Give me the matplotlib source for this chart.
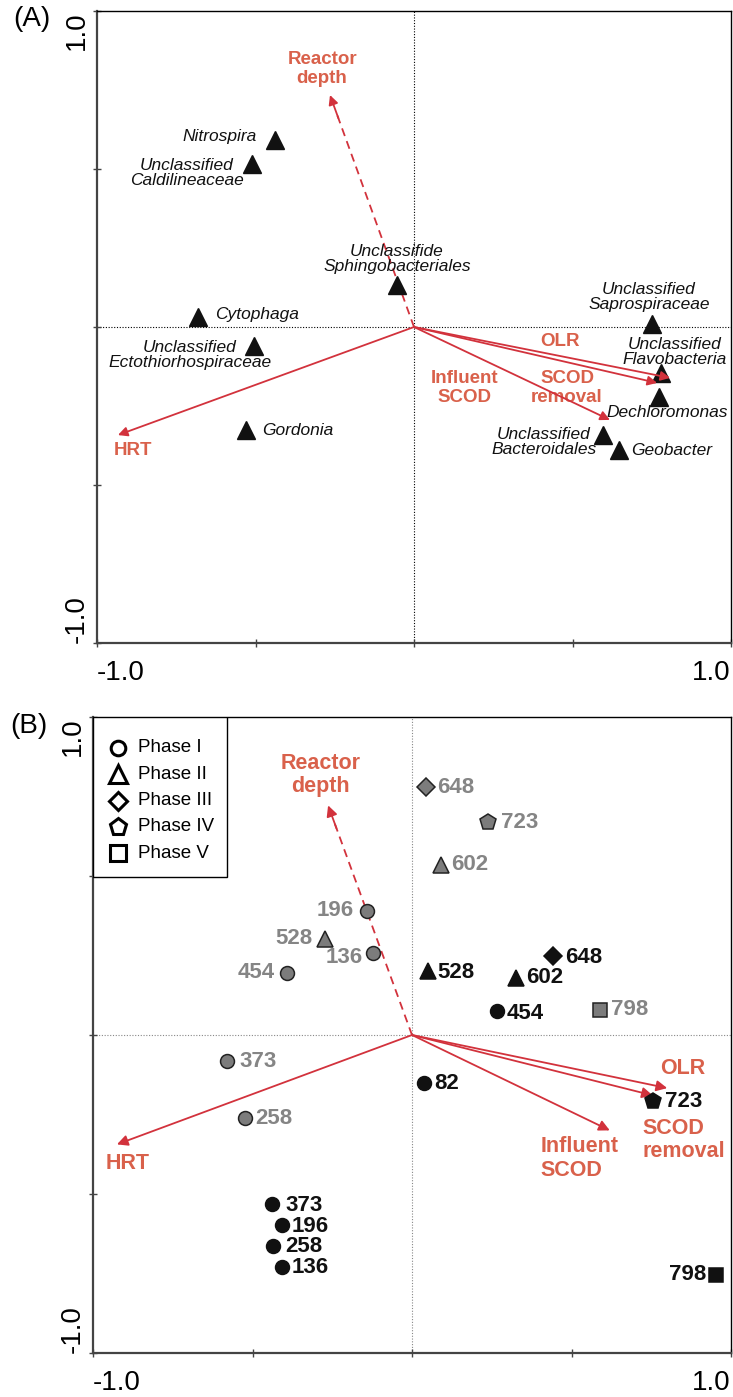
import matplotlib.pyplot as plt
from matplotlib.patches import Rectangle

plt.rcParams['font.family'] = ['Liberation Sans', 'DejaVu Sans']

ARROW_RED = '#d2323c'
LABEL_RED = '#d9614b'
GRAY_TXT = '#858585'
GRAY_FILL = '#7c7c7c'

# ---- panel A: genera scores ----
genera = ['Nitrospira', 'Unclassified\nCaldilineaceae', 'Unclassifide\nSphingobacteriales',
          'Cytophaga', 'Unclassified\nEctothiorhospiraceae', 'Gordonia',
          'Unclassified\nSaprospiraceae', 'Unclassified\nFlavobacteria', 'Dechloromonas',
          'Unclassified\nBacteroidales', 'Geobacter']
genus_x = [-0.438, -0.511, -0.054, -0.681, -0.505, -0.530, 0.751, 0.779, 0.773, 0.596, 0.647]
genus_y = [0.592, 0.516, 0.133, 0.032, -0.060, -0.326, 0.010, -0.146, -0.221, -0.342, -0.389]

# environmental variables (same in both panels, read separately)
env_names = ['Reactor\ndepth', 'HRT', 'OLR', 'SCOD\nremoval', 'Influent\nSCOD']
env_a_x = [-0.265, -0.934, 0.808, 0.767, 0.618]
env_a_y = [0.734, -0.342, -0.161, -0.177, -0.294]
env_b_x = [-0.263, -0.925, 0.800, 0.755, 0.620]
env_b_y = [0.722, -0.344, -0.167, -0.190, -0.300]

# ---- panel B: sample scores ----
phases = ['Phase I', 'Phase II', 'Phase III', 'Phase IV', 'Phase V']
gray_days = ['196', '528', '136', '454', '648', '723', '602', '798', '373', '258']
gray_phase = [0, 1, 0, 0, 2, 3, 1, 4, 0, 0]
gray_x = [-0.141, -0.273, -0.122, -0.392, 0.044, 0.238, 0.091, 0.589, -0.580, -0.524]
gray_y = [0.391, 0.303, 0.259, 0.196, 0.779, 0.669, 0.536, 0.079, -0.082, -0.262]

black_days = ['528', '648', '602', '454', '82', '723', '373', '196', '258', '136', '798']
black_phase = [1, 2, 1, 0, 0, 3, 0, 0, 0, 0, 4]
black_x = [0.050, 0.442, 0.326, 0.266, 0.038, 0.755, -0.439, -0.408, -0.436, -0.408, 0.953]
black_y = [0.202, 0.249, 0.180, 0.076, -0.151, -0.208, -0.533, -0.599, -0.662, -0.729, -0.754]

# label placement (pixel offsets, alignment)
genus_lab = [(-18, 3, 'right'), (-65, -9, 'center'), (0, 26, 'center'), (17, 2, 'left'),
             (-64, -9, 'center'), (16, 0, 'left'), (-3, 27, 'center'), (14, 21, 'center'),
             (8, -16, 'center'), (-59, -7, 'center'), (12, -1, 'left')]
env_a_lab = [(-0.29, 0.816, 'center'), (-0.886, -0.392, 'center'), (0.46, -0.047, 'center'),
             (0.483, -0.193, 'center'), (0.158, -0.193, 'center')]
env_b_lab = [(-0.288, 0.817, 'center'), (-0.893, -0.404, 'center'), (0.85, -0.104, 'center'),
             (0.722, -0.331, 'left'), (0.404, -0.388, 'left')]
gray_lab = [(-13, 0, 'right'), (-12, 0, 'right'), (-10, -5, 'right'), (-12, 0, 'right'),
            (11, 0, 'left'), (13, 0, 'left'), (10, 0, 'left'), (11, 0, 'left'),
            (12, 0, 'left'), (10, 0, 'left')]
black_lab = [(9, -2, 'left'), (12, -2, 'left'), (10, 0, 'left'), (10, -3, 'left'),
             (10, 0, 'left'), (12, 0, 'left'), (13, -1, 'left'), (10, -1, 'left'),
             (12, -1, 'left'), (10, -1, 'left'), (-10, 0, 'right')]

markers = ['o', '^', 'D', 'p', 's']
msizes = [10, 12, 9, 12, 10.5]

W, H = 733, 1397
fig = plt.figure(figsize=(W / 100, H / 100), dpi=100)


def make_axes(l, r, t, b, zcolor):
    ax = fig.add_axes([l / W, 1 - b / H, (r - l) / W, (b - t) / H])
    ax.set_xlim(-1, 1)
    ax.set_ylim(-1, 1)
    ax.axhline(0, color=zcolor, lw=0.8, ls=(0, (1, 1.5)), zorder=0)
    ax.axvline(0, color=zcolor, lw=0.8, ls=(0, (1, 1.5)), zorder=0)
    for s in ['left', 'bottom']:
        ax.spines[s].set_color('#444444')
        ax.spines[s].set_linewidth(1.6)
    for s in ['top', 'right']:
        ax.spines[s].set_color('black')
        ax.spines[s].set_linewidth(1.0)
    ticks = [-1, -0.5, 0, 0.5, 1]
    ax.set_xticks(ticks)
    ax.set_yticks(ticks)
    ax.set_xticklabels(['-1.0', '', '', '', '1.0'], fontsize=20)
    ax.set_yticklabels(['-1.0', '', '', '', '1.0'], fontsize=20, rotation=90)
    ax.tick_params(axis='x', direction='inout', length=6, width=1, pad=9, color='#444444')
    ax.tick_params(axis='y', direction='inout', length=6, width=1, pad=2, color='#444444')
    xl = ax.get_xticklabels()
    xl[0].set_ha('left')
    xl[-1].set_ha('right')
    yl = ax.get_yticklabels()
    yl[0].set_va('bottom')
    yl[-1].set_va('top')
    return ax


def draw_env(ax, xs, ys, labs, fs, hs, lsp):
    for i, (x, y) in enumerate(zip(xs, ys)):
        if i == 0:
            # dashed shaft, solid head
            ax.plot([0, x * 0.93], [0, y * 0.93], color=ARROW_RED, lw=1.3, ls=(0, (4.5, 3)))
            ax.annotate('', xy=(x, y), xytext=(x * 0.9, y * 0.9),
                        arrowprops=dict(arrowstyle='-|>', color=ARROW_RED, lw=1.3,
                                        mutation_scale=hs, shrinkA=0, shrinkB=0))
        else:
            ax.annotate('', xy=(x, y), xytext=(0, 0),
                        arrowprops=dict(arrowstyle='-|>', color=ARROW_RED, lw=1.3,
                                        mutation_scale=hs, shrinkA=0, shrinkB=0))
        tx, ty, ha = labs[i]
        ax.text(tx, ty, env_names[i], color=LABEL_RED, fontsize=fs, fontweight='bold',
                ha=ha, va='center', multialignment=ha, linespacing=lsp)


# ---- (A) ----
axA = make_axes(97, 731, 11, 643, 'black')
axA.plot(genus_x, genus_y, ls='none', marker='^', ms=13, color='#111111', zorder=3)
for i, name in enumerate(genera):
    dx, dy, ha = genus_lab[i]
    axA.annotate(name, (genus_x[i], genus_y[i]), xytext=(dx, dy), textcoords='offset pixels',
                 ha=ha, va='center', fontsize=12.5, style='italic', color='#111111',
                 multialignment='center', linespacing=1.0)
draw_env(axA, env_a_x, env_a_y, env_a_lab, 13.5, 14, 1.15)
fig.text(13 / W, 1 - 6 / H, '(A)', fontsize=20, va='top', ha='left')

# ---- (B) ----
bl, br, bt, bb = 93, 731, 717, 1353
axB = make_axes(bl, br, bt, bb, '#888888')
draw_env(axB, env_b_x, env_b_y, env_b_lab, 15.5, 16, 1.15)

for xs, ys, ph, days, labs, fill, edge, tcol in [
        (gray_x, gray_y, gray_phase, gray_days, gray_lab, GRAY_FILL, '#222222', GRAY_TXT),
        (black_x, black_y, black_phase, black_days, black_lab, '#111111', '#111111', '#111111')]:
    for i in range(len(xs)):
        p = ph[i]
        axB.plot(xs[i], ys[i], marker=markers[p], ms=msizes[p], mfc=fill, mec=edge,
                 mew=1.1, ls='none', zorder=4)
        dx, dy, ha = labs[i]
        axB.annotate(days[i], (xs[i], ys[i]), xytext=(dx, dy), textcoords='offset pixels',
                     ha=ha, va='center', fontsize=16, fontweight='bold', color=tcol)

# phase key in the upper-left corner
aw, ah = br - bl, bb - bt
axB.add_patch(Rectangle((0, 1 - 160 / ah), 134 / aw, 160 / ah, transform=axB.transAxes,
                        facecolor='white', edgecolor='black', lw=1.0, zorder=5))
for i, name in enumerate(phases):
    ry = 1 - (31 + 26.3 * i) / ah
    axB.plot((118 - bl) / aw, ry, transform=axB.transAxes, marker=markers[i],
             ms=msizes[i] + 0.5, mfc='white', mec='black', mew=2.2, ls='none', zorder=6,
             clip_on=False)
    axB.text((138 - bl) / aw, ry, name, transform=axB.transAxes, fontsize=13.5,
             va='center', ha='left', zorder=6)
fig.text(10 / W, 1 - 713 / H, '(B)', fontsize=20, va='top', ha='left')

fig.savefig('out.png', dpi=100)
